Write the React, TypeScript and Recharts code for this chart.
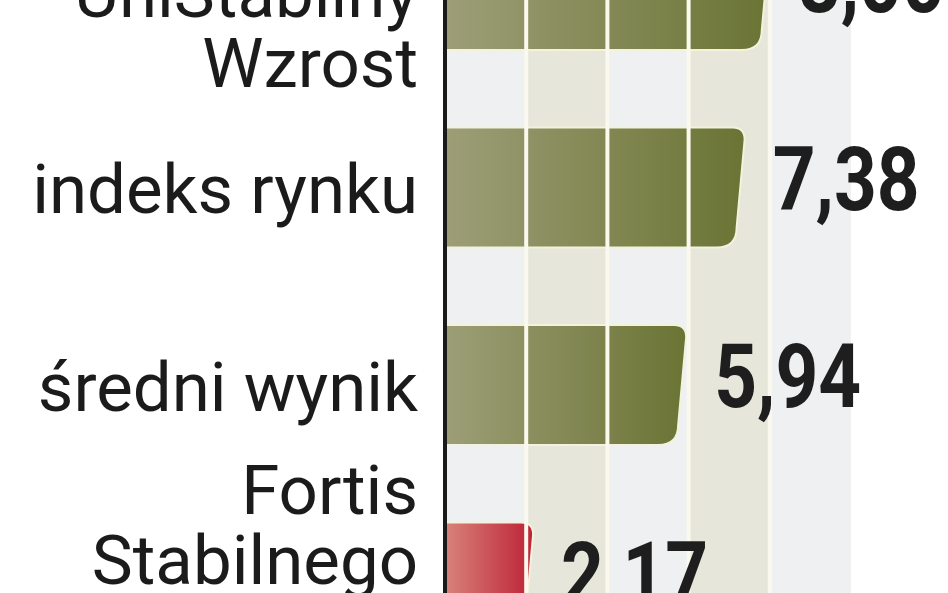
import React from "react";
import { BarChart, Bar, XAxis, YAxis, ReferenceArea, ReferenceLine, LabelList, Cell } from "recharts";

// ---- data ----
const categories = ["UniStabilny\nWzrost", "indeks rynku", "średni wynik", "Fortis\nStabilnego\nWzrostu"];
const returns = [8.0, 7.38, 5.94, 2.17];
const xTicks = [0, 2, 4, 6, 8, 10];
const highlighted = "Fortis\nStabilnego\nWzrostu";

const data = categories.map((name, i) => ({ name, value: returns[i] }));
const bands = xTicks.slice(0, -1).map((t, i) => ({ x1: t, x2: xTicks[i + 1], i }));
const separators = xTicks.slice(1, -1);

const fmt = (v: number) => v.toFixed(2).replace(".", ",");

// first-line baseline offset (from bar centre) by number of lines
const firstLineOffset: Record<number, number> = { 1: 26, 2: 27, 3: -68 };

const CategoryTick = (props: any) => {
  const { x, y, payload } = props;
  const lines = String(payload.value).split("\n");
  const off = firstLineOffset[lines.length] ?? 26;
  return (
    <text x={x} y={y} textAnchor="end" fontFamily="Roboto, 'DejaVu Sans', sans-serif" fontSize={69} fill="#1b1b1b">
      {lines.map((l, i) => (
        <tspan key={i} x={x} y={y + off + i * 70}>
          {l}
        </tspan>
      ))}
    </text>
  );
};

const BarShape = (props: any) => {
  const { x, y, width, height, fill } = props;
  if (!width || width <= 0) return null;
  const r1 = Math.min(12, width / 3);
  const r2 = Math.min(20, width / 3);
  const s = 8;
  const right = x + width;
  const d = [
    `M ${x} ${y}`,
    `L ${right - r1} ${y}`,
    `Q ${right} ${y} ${right} ${y + r1}`,
    `L ${right - s} ${y + height - r2}`,
    `Q ${right - s} ${y + height} ${right - s - r2} ${y + height}`,
    `L ${x} ${y + height}`,
    "Z",
  ].join(" ");
  return <path d={d} fill={fill} stroke="#f4f2dc" strokeWidth={2} />;
};

const ValueLabel = (props: any) => {
  const { x, y, width, height, value } = props;
  const tx = x + width + 28;
  const ty = y + height / 2 + 22;
  return (
    <text
      transform={`translate(${tx},${ty}) scale(0.84,1)`}
      x={0}
      y={0}
      fontFamily="Roboto, 'DejaVu Sans', sans-serif"
      fontWeight="bold"
      fontSize={89}
      fill="#1e1e1e"
    >
      {fmt(Number(value))}
    </text>
  );
};

export default function App() {
  return (
    <div
      style={{
        position: "absolute",
        left: 0,
        top: 0,
        width: 948,
        height: 593,
        overflow: "hidden",
        background: "#ffffff",
      }}
    >
      <div style={{ position: "absolute", left: 0, top: -109 }}>
        <BarChart
          width={948}
          height={790}
          data={data}
          layout="vertical"
          margin={{ top: 0, right: 97, bottom: 0, left: 0 }}
          barSize={120}
        >
          <defs>
            <linearGradient id="olive" x1="0" y1="0" x2="1" y2="0">
              <stop offset="0%" stopColor="#9d9e77" />
              <stop offset="100%" stopColor="#6a7434" />
            </linearGradient>
            <linearGradient id="red" x1="0" y1="0" x2="1" y2="0">
              <stop offset="0%" stopColor="#d8837b" />
              <stop offset="100%" stopColor="#bd2235" />
            </linearGradient>
          </defs>
          {bands.map((b) => (
            <ReferenceArea
              key={b.i}
              x1={b.x1}
              x2={b.x2}
              fill={b.i % 2 === 0 ? "#eef0f2" : "#e6e6da"}
              fillOpacity={1}
              stroke="none"
            />
          ))}
          <XAxis
            type="number"
            domain={[0, 10]}
            ticks={xTicks}
            tick={false}
            tickLine={false}
            axisLine={false}
            height={0}
          />
          <YAxis
            type="category"
            dataKey="name"
            width={445}
            tickSize={0}
            tickMargin={27}
            tickLine={false}
            axisLine={{ stroke: "#1a1a1a", strokeWidth: 4 }}
            tick={<CategoryTick />}
            interval={0}
          />
          <Bar dataKey="value" isAnimationActive={false} shape={<BarShape />}>
            {data.map((d, i) => (
              <Cell key={i} fill={d.name === highlighted ? "url(#red)" : "url(#olive)"} />
            ))}
            <LabelList dataKey="value" content={<ValueLabel />} />
          </Bar>
          {separators.map((t) => (
            <ReferenceLine key={t} x={t} stroke="#fbf9ee" strokeWidth={4} />
          ))}
        </BarChart>
      </div>
    </div>
  );
}
